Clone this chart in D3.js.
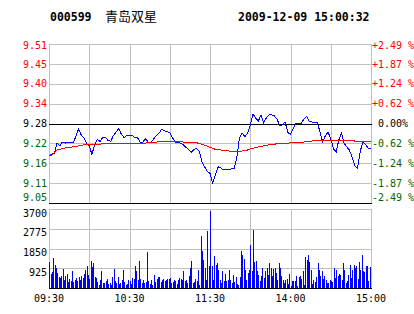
<!DOCTYPE html>
<html>
<head>
<meta charset="utf-8">
<script src="https://cdn.jsdelivr.net/npm/d3@7"></script>
<style>
  body { margin: 0; background: #fff; }
  text { font-family: "DejaVu Sans Mono", monospace; }
</style>
</head>
<body>
<div id="chart"></div>
<script>
const stockCode = "000599",
  stockName = "青岛双星",
  stamp = "2009-12-09 15:00:32";
const prevClose = 9.28;

const priceLabels = ["9.51", "9.45", "9.40", "9.34", "9.28", "9.22", "9.16", "9.11", "9.05"];
const pctLabels = ["+2.49 %", "+1.87 %", "+1.24 %", "+0.62 %", " 0.00%", "-0.62 %", "-1.24 %", "-1.87 %", "-2.49 %"];
const volTicks = [3700, 2775, 1850, 925];
const timeTicks = [0, 60, 120, 180, 240];
const timeLabels = ["09:30", "10:30", "11:30", "14:00", "15:00"];

// last price, one value every 2 minutes of the 240 trading minutes
const prices = [
  9.188, 9.190, 9.194, 9.224, 9.215, 9.226, 9.223, 9.225, 9.225, 9.225,
  9.241, 9.264, 9.247, 9.238, 9.222, 9.215, 9.190, 9.218, 9.234, 9.228,
  9.239, 9.240, 9.231, 9.228, 9.245, 9.255, 9.265, 9.248, 9.239, 9.245,
  9.244, 9.245, 9.239, 9.239, 9.226, 9.226, 9.236, 9.225, 9.226, 9.235,
  9.245, 9.252, 9.263, 9.259, 9.256, 9.254, 9.239, 9.226, 9.224, 9.223,
  9.219, 9.211, 9.204, 9.196, 9.205, 9.208, 9.200, 9.168, 9.154, 9.140,
  9.135, 9.107, 9.130, 9.154, 9.151, 9.145, 9.148, 9.146, 9.148, 9.148,
  9.183, 9.238, 9.252, 9.242, 9.252, 9.276, 9.308, 9.296, 9.287, 9.305,
  9.283, 9.296, 9.305, 9.305, 9.302, 9.292, 9.274, 9.276, 9.284, 9.254,
  9.248, 9.265, 9.279, 9.280, 9.280, 9.293, 9.300, 9.287, 9.284, 9.283,
  9.283, 9.255, 9.226, 9.245, 9.255, 9.236, 9.207, 9.197, 9.232, 9.252,
  9.222, 9.212, 9.202, 9.181, 9.157, 9.150, 9.200, 9.226, 9.219, 9.208, 9.208
];

// average price, same sampling
const avgPrices = [
  9.188, 9.188, 9.196, 9.203, 9.205, 9.207, 9.209, 9.209, 9.211, 9.212,
  9.213, 9.215, 9.217, 9.218, 9.219, 9.220, 9.220, 9.220, 9.220, 9.220,
  9.221, 9.221, 9.221, 9.222, 9.222, 9.222, 9.222, 9.222, 9.222, 9.222,
  9.222, 9.222, 9.222, 9.222, 9.222, 9.223, 9.223, 9.224, 9.225, 9.225,
  9.226, 9.227, 9.227, 9.227, 9.227, 9.227, 9.227, 9.227, 9.227, 9.227,
  9.226, 9.226, 9.225, 9.225, 9.224, 9.224, 9.222, 9.220, 9.217, 9.214,
  9.211, 9.208, 9.205, 9.204, 9.203, 9.202, 9.201, 9.200, 9.199, 9.198,
  9.198, 9.199, 9.200, 9.202, 9.203, 9.206, 9.208, 9.210, 9.212, 9.214,
  9.215, 9.217, 9.218, 9.219, 9.220, 9.221, 9.222, 9.222, 9.223, 9.223,
  9.224, 9.224, 9.224, 9.225, 9.225, 9.226, 9.228, 9.229, 9.229, 9.230,
  9.231, 9.231, 9.231, 9.231, 9.232, 9.232, 9.232, 9.232, 9.232, 9.232,
  9.231, 9.231, 9.230, 9.230, 9.229, 9.229, 9.229, 9.228, 9.228, 9.228, 9.227
];

// volume per minute
const volumes = [
  1217, 655, 749, 1404, 1077, 936, 702, 515, 468, 562,
  889, 374, 562, 655, 281, 421, 328, 796, 281, 374,
  468, 328, 515, 374, 562, 468, 655, 842, 1030, 608,
  421, 1264, 983, 1170, 515, 468, 281, 140, 374, 796,
  234, 234, 328, 421, 187, 234, 140, 515, 889, 328,
  234, 515, 187, 234, 374, 842, 281, 140, 187, 374,
  328, 187, 468, 421, 1030, 796, 374, 1264, 421, 234,
  374, 234, 281, 1685, 328, 187, 374, 140, 608, 281,
  421, 515, 515, 281, 374, 421, 328, 374, 421, 421,
  468, 234, 281, 374, 328, 187, 374, 468, 421, 374,
  796, 328, 374, 234, 562, 936, 1264, 234, 281, 421,
  328, 842, 140, 2434, 1732, 1310, 936, 374, 2668, 1030,
  3604, 1030, 374, 1498, 1077, 1170, 842, 374, 234, 796,
  328, 655, 328, 374, 842, 374, 234, 608, 281, 515,
  187, 140, 515, 1732, 1544, 1357, 842, 374, 702, 842,
  2013, 796, 2715, 1217, 1264, 796, 608, 328, 562, 936,
  468, 796, 936, 608, 1170, 936, 562, 889, 936, 702,
  374, 1170, 936, 562, 374, 234, 374, 421, 187, 655,
  94, 328, 328, 328, 562, 94, 515, 562, 421, 796,
  140, 1451, 1310, 1544, 1217, 842, 187, 374, 281, 515,
  1170, 842, 562, 796, 421, 562, 374, 234, 234, 374,
  328, 281, 936, 468, 842, 562, 655, 608, 374, 1170,
  842, 234, 328, 608, 1077, 468, 842, 1077, 936, 1030,
  421, 1217, 842, 1544, 796, 749, 1030, 1030, 328, 983
];

const W = 414, H = 314;
const left = 49, right = 371;
const priceTop = 44, priceBottom = 203;
const volTop = 209, volBottom = 288;
const span = 0.231;

const svg = d3
  .select("#chart")
  .append("svg")
  .attr("width", W)
  .attr("height", H);

const x = d3.scaleLinear().domain([0, 240]).range([left, right]);
const y = d3.scaleLinear().domain([prevClose - span, prevClose + span]).range([priceBottom, priceTop]);
const yv = d3.scaleLinear().domain([0, 3700]).range([volBottom, volTop]);

const px = (v) => Math.round(v) + 0.5;
const priceTicks = d3.range(9).map((i) => prevClose + (span * (4 - i)) / 4);
// label centre: on the grid line, but kept inside the panel at the ends
const labelY = (i) => Math.min(197, Math.max(45.5, y(priceTicks[i]))) + 3.7;

// grid
const grid = svg.append("g").attr("stroke", "#c0c0c0").attr("shape-rendering", "crispEdges");
d3.range(0, 241, 30).forEach((t) => {
  grid.append("line").attr("x1", px(x(t))).attr("x2", px(x(t))).attr("y1", priceTop).attr("y2", priceBottom);
  grid.append("line").attr("x1", px(x(t))).attr("x2", px(x(t))).attr("y1", volTop).attr("y2", volBottom);
});
priceTicks.forEach((p) => {
  grid.append("line").attr("x1", left).attr("x2", right + 1).attr("y1", px(y(p))).attr("y2", px(y(p)));
});
volTicks.forEach((v) => {
  grid.append("line").attr("x1", left).attr("x2", right + 1).attr("y1", px(yv(v))).attr("y2", px(yv(v)));
});

// black reference lines
const ref = svg.append("g").attr("stroke", "#000").attr("shape-rendering", "crispEdges");
[prevClose, prevClose - span].forEach((p) => {
  ref.append("line").attr("x1", left).attr("x2", right + 1).attr("y1", px(y(p))).attr("y2", px(y(p)));
});
ref.append("line").attr("x1", left).attr("x2", right + 1).attr("y1", px(yv(0))).attr("y2", px(yv(0)));

// volume bars
svg
  .append("g")
  .selectAll("rect")
  .data(volumes)
  .join("rect")
  .attr("x", (d, i) => Math.floor(x(i + 0.5)))
  .attr("width", 1)
  .attr("y", (d) => Math.round(yv(d)))
  .attr("height", (d) => Math.round(yv(0)) - Math.round(yv(d)))
  .attr("fill", "#0000ff")
  .attr("shape-rendering", "crispEdges");

// price and average lines
const line = d3
  .line()
  .x((d, i) => x(i * 2))
  .y((d) => y(d));

svg
  .append("path")
  .datum(prices)
  .attr("d", line)
  .attr("fill", "none")
  .attr("stroke", "#0000ff")
  .attr("stroke-width", 1)
  .attr("shape-rendering", "crispEdges");

svg
  .append("path")
  .datum(avgPrices)
  .attr("d", line)
  .attr("fill", "none")
  .attr("stroke", "#ff0000")
  .attr("stroke-width", 1)
  .attr("shape-rendering", "crispEdges");

// price labels
const labelColor = (i) => (i < 4 ? "#ff0000" : i === 4 ? "#000" : "#006400");
svg
  .append("g")
  .selectAll("text")
  .data(priceLabels)
  .join("text")
  .attr("x", 47)
  .attr("y", (d, i) => labelY(i))
  .attr("text-anchor", "end")
  .attr("font-size", "10px")
  .attr("fill", (d, i) => labelColor(i))
  .text((d) => d);

svg
  .append("g")
  .selectAll("text")
  .data(pctLabels)
  .join("text")
  .attr("x", 372)
  .attr("y", (d, i) => labelY(i))
  .attr("font-size", "10px")
  .style("white-space", "pre")
  .attr("fill", (d, i) => labelColor(i))
  .text((d) => d);

// volume labels
svg
  .append("g")
  .selectAll("text")
  .data(volTicks)
  .join("text")
  .attr("x", 47)
  .attr("y", (d) => yv(d) + 7.5)
  .attr("text-anchor", "end")
  .attr("font-size", "10px")
  .attr("fill", "#000")
  .text((d) => d);

// time labels
svg
  .append("g")
  .selectAll("text")
  .data(timeTicks)
  .join("text")
  .attr("x", (d) => x(d))
  .attr("y", 302)
  .attr("text-anchor", "middle")
  .attr("font-size", "10px")
  .attr("fill", "#000")
  .text((d, i) => timeLabels[i]);

// header
svg.append("text").attr("x", 50).attr("y", 21).attr("font-size", "11.5px").attr("font-weight", "bold").text(stockCode);
svg
  .append("text")
  .attr("x", 105)
  .attr("y", 21)
  .attr("font-size", "13px")
  .style("font-family", '"Noto Sans CJK SC", sans-serif')
  .text(stockName);
svg.append("text").attr("x", 238).attr("y", 21).attr("font-size", "11.5px").attr("font-weight", "bold").text(stamp);
</script>
</body>
</html>
